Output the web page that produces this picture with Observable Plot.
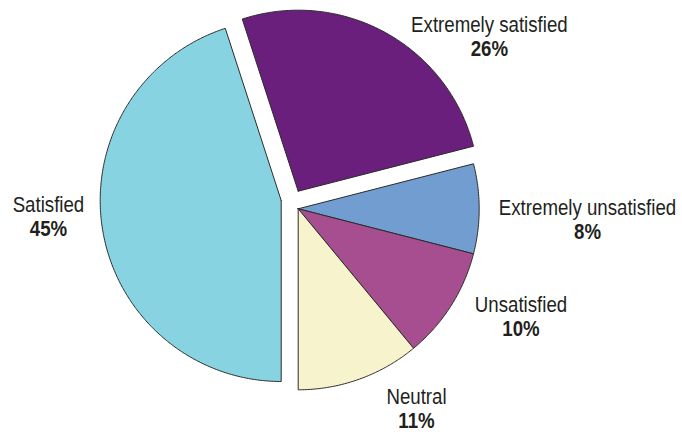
<!DOCTYPE html>
<html>
<head>
<meta charset="utf-8">
<script src="https://cdn.jsdelivr.net/npm/d3@7"></script>
<script src="https://cdn.jsdelivr.net/npm/@observablehq/plot@0.6"></script>
<style>
  html, body { margin: 0; padding: 0; background: #fff; }
</style>
</head>
<body>
<div id="chart"></div>
<script>
// ---- Data ----
const categories = ["Extremely satisfied", "Extremely unsatisfied", "Unsatisfied", "Neutral", "Satisfied"];
const percentages = [26, 8, 10, 11, 45];
const percentLabels = ["26%", "8%", "10%", "11%", "45%"];
const colors = ["#6b1f7d", "#729dd0", "#a64e90", "#f6f3cd", "#88d3e2"];

// ---- Layout (pixels) ----
const W = 682, H = 435;
const cx = 297.7, cy = 208.3, R = 181;
const startDeg = -18;
// explode offsets of slices (px, screen coords)
const explode = { "Extremely satisfied": [0, -17.6], "Satisfied": [-17, -8.3] };
// label nudges from the slice's outer mid-arc point (px): [dx, dyName, dyPct]
const nudge = {
  "Extremely satisfied": [104, -7.5, 15.8],
  "Extremely unsatisfied": [108.3, -0.7, 22.6],
  "Unsatisfied": [70, -1, 23],
  "Neutral": [57, 17.3, 41.3],
  "Satisfied": [-54, -23.7, -0.4]
};
const FONT = "'Liberation Sans', Arial, sans-serif";
const FONT_SIZE = 22.5;
const NARROW = 0.83; // horizontal condensing of the label font

const rad = Math.PI / 180;
const arcs = d3.pie().sort(null).value(d => d)
  .startAngle(startDeg * rad).endAngle((startDeg + 360) * rad)(percentages);

// slice outlines in units of radius (y up)
const slicePts = [];
const labels = [];
arcs.forEach((a, i) => {
  const name = categories[i];
  const [ox, oy] = explode[name] || [0, 0];
  const vx = ox / R, vy = -oy / R;
  const pts = [[vx, vy]];
  const n = Math.max(2, Math.ceil((a.endAngle - a.startAngle) / (0.5 * rad)));
  for (let k = 0; k <= n; k++) {
    const t = a.startAngle + (a.endAngle - a.startAngle) * k / n;
    pts.push([vx + Math.sin(t), vy + Math.cos(t)]);
  }
  pts.push([vx, vy]);
  pts.forEach(([x, y]) => slicePts.push({ name, x, y }));
  const mid = (a.startAngle + a.endAngle) / 2;
  const ex = vx + Math.sin(mid), ey = vy + Math.cos(mid);
  const [ndx, ndy1, ndy2] = nudge[name];
  labels.push({
    name, pct: percentLabels[i],
    x: ex + ndx / R,
    y1: ey - ndy1 / R,
    y2: ey - ndy2 / R
  });
});

const chart = Plot.plot({
  width: W,
  height: H,
  margin: 0,
  style: { fontFamily: FONT, background: "#fff" },
  x: { domain: [-cx / R, (W - cx) / R], range: [0, W], axis: null },
  y: { domain: [-(H - cy) / R, cy / R], range: [H, 0], axis: null },
  color: { domain: categories, range: colors },
  marks: [
    Plot.line(slicePts, {
      x: "x", y: "y", z: "name", fill: "name",
      stroke: "#2b2b2b", strokeWidth: 1, strokeLinejoin: "miter", curve: "linear"
    }),
    Plot.text(labels, {
      x: "x", y: "y1", text: "name", textAnchor: "middle",
      fontSize: FONT_SIZE, fill: "#231f20", fontFamily: FONT
    }),
    Plot.text(labels, {
      x: "x", y: "y2", text: "pct", textAnchor: "middle",
      fontSize: FONT_SIZE, fontWeight: "bold", fill: "#231f20", fontFamily: FONT
    })
  ]
});
document.getElementById("chart").appendChild(chart);

// condense label glyphs horizontally (narrow-font look) around each text's anchor
chart.querySelectorAll("text").forEach(t => {
  const tr = t.getAttribute("transform") || "";
  t.setAttribute("transform", (tr + ` scale(${NARROW},1)`).trim());
});
</script>
</body>
</html>
